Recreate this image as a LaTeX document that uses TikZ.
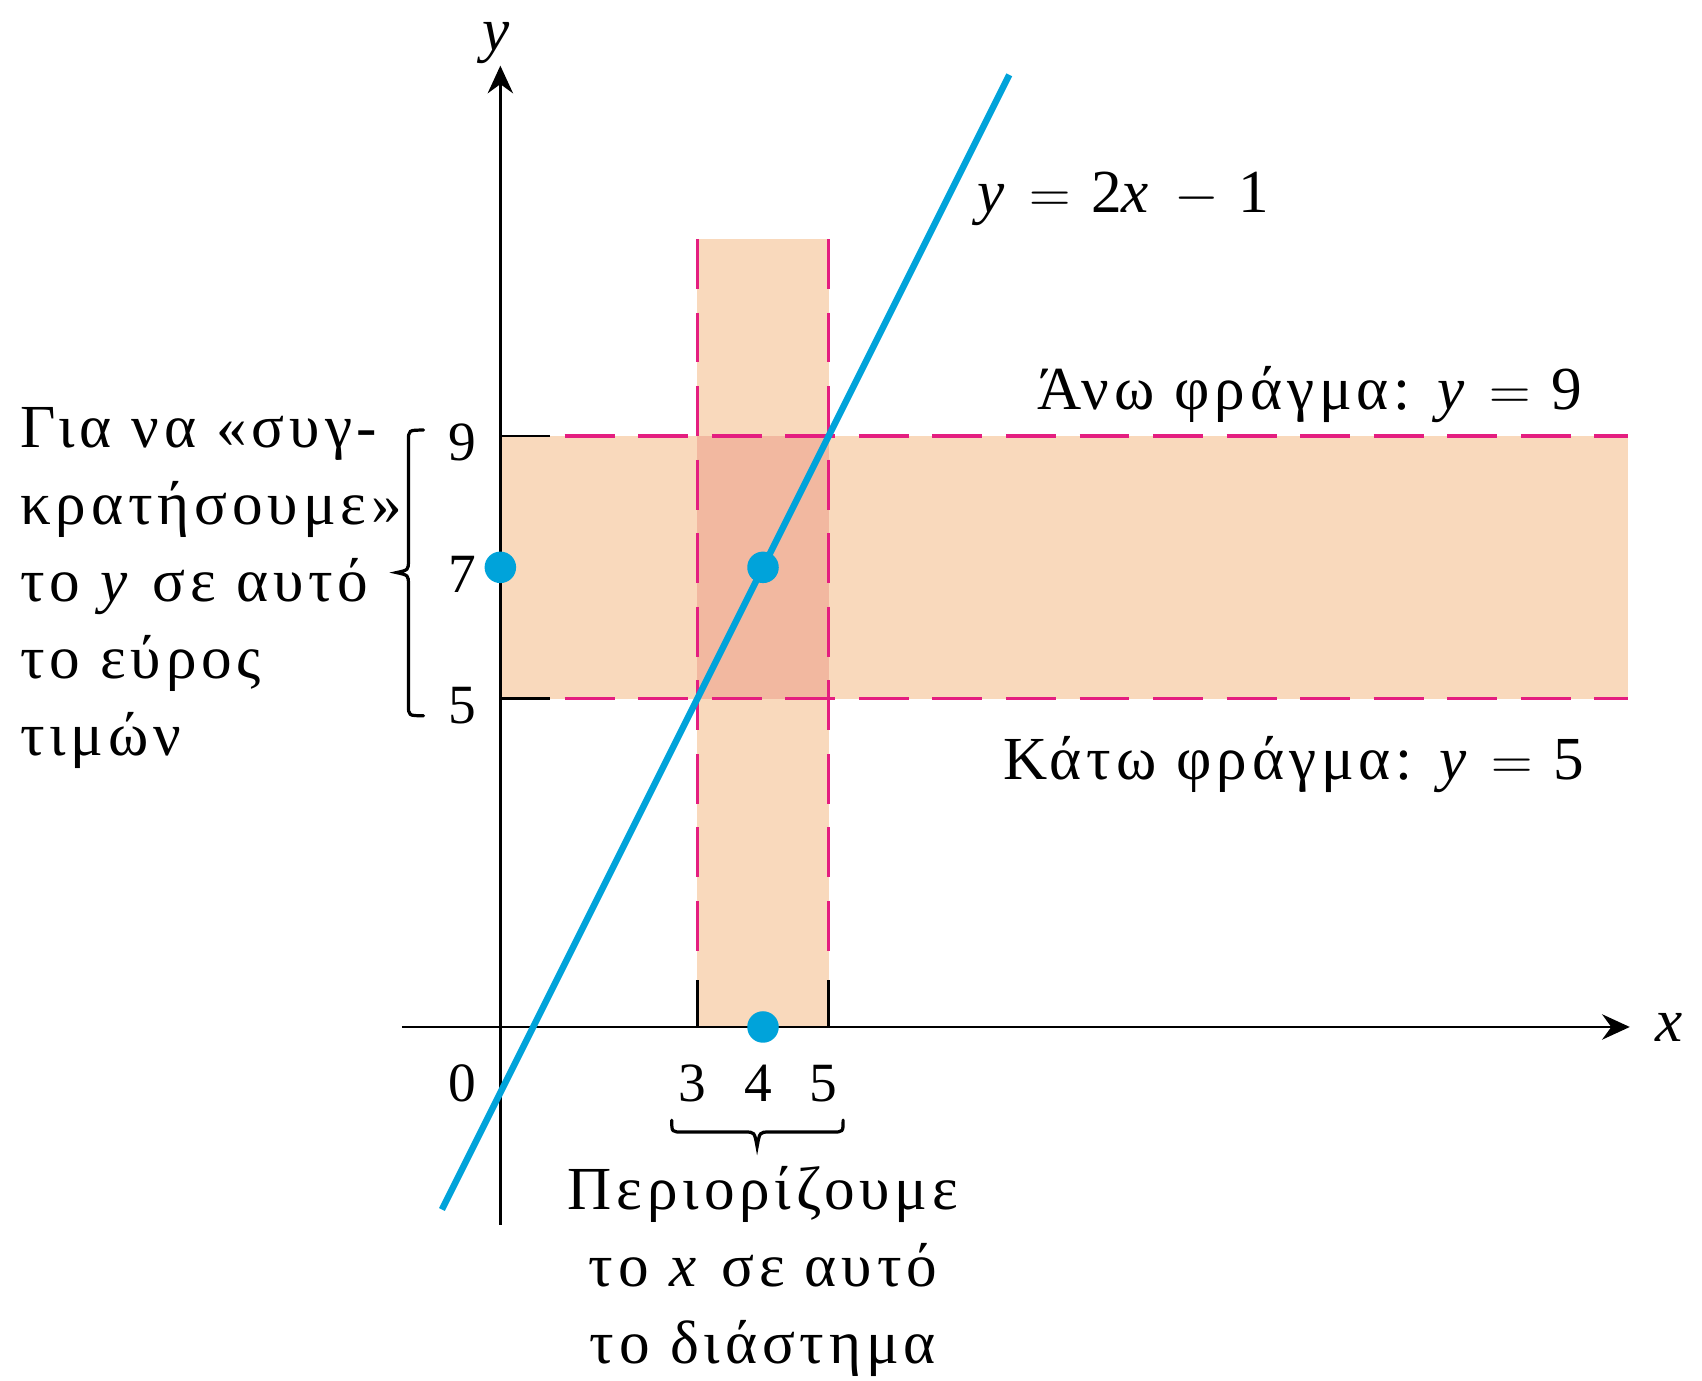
\documentclass[tikz,border=0pt]{standalone}
\usepackage{fontspec}
\setmainfont{Liberation Serif}
\newfontfamily\spacedserif[LetterSpace=8]{Liberation Serif}
\usepackage{tikz}
\usetikzlibrary{arrows.meta}
\usepackage{xcolor}
\definecolor{boundpeach}{RGB}{249,217,188}
\definecolor{boundoverlap}{RGB}{242,184,160}
\definecolor{boundmagenta}{RGB}{228,30,128}
\definecolor{boundcyan}{RGB}{0,163,218}

\begin{document}
\begin{tikzpicture}[
  axis/.style={-{Stealth[length=12pt, width=11pt, inset=4pt]}, line width=1.1pt},
  bound/.style={boundmagenta, line width=1.4pt, dash pattern=on 0.76cm off 0.36cm},
  tickmark/.style={line width=1.1pt},
  graph/.style={boundcyan, line width=2.8pt},
  curly/.style={line width=1.4pt, line cap=round},
  lbl/.style={font=\spacedserif\fontsize{26.5}{33.4}\selectfont, inner sep=0pt},
  num/.style={font=\fontsize{24}{28}\selectfont, inner sep=0pt},
  dot/.style={circle, fill=boundcyan, inner sep=0pt, minimum size=0.48cm},
]
  \useasboundingbox (-7.62,-5.39) rectangle (18.30,15.64);

  % Shaded strips
  \fill[boundpeach] (0,5) rectangle (17.17,9);
  \fill[boundpeach] (3,0) rectangle (5,12);
  \fill[boundoverlap] (3,5) rectangle (5,9);

  % Bounds
  \draw[bound] (0.98,9) -- (17.17,9);
  \draw[bound] (0.98,5) -- (17.17,5);
  \draw[bound] (3,12) -- (3,1.0);
  \draw[bound] (5,12) -- (5,1.0);
  \draw[tickmark] (0,9) -- (0.76,9);
  \draw[tickmark] (0,5) -- (0.76,5);
  \draw[tickmark] (3,0) -- (3,0.72);
  \draw[tickmark] (5,0) -- (5,0.72);

  % Axes
  \draw[axis] (-1.5,0) -- (17.2,0);
  \draw[axis] (0,-3.01) -- (0,14.64);
  \node[lbl] (xlab) at (17.83,0) {\textit{x}};
  \node[lbl] (ylab) at (-0.03,14.98) {\textit{y}};

  % Graph
  \draw[graph] (-0.89,-2.78) -- (7.75,14.5);
  \node[lbl, anchor=base west] (eqn) at (7.26,12.41)
    {\textit{y} $=$ 2\textit{x} $-$ 1};

  \node[dot] (p07) at (0,7) {};
  \node[dot] (p47) at (4,7) {};
  \node[dot] (p40) at (4,0) {};

  % Tick labels
  \node[num, anchor=base east] (t9) at (-0.36,8.62) {9};
  \node[num, anchor=base east] (t7) at (-0.36,6.62) {7};
  \node[num, anchor=base east] (t5) at (-0.36,4.62) {5};
  \node[num, anchor=base east] (t0) at (-0.36,-1.14) {0};
  \node[num, anchor=base] (t3) at (2.93,-1.14) {3};
  \node[num, anchor=base] (t4) at (3.93,-1.14) {4};
  \node[num, anchor=base] (t5x) at (4.92,-1.14) {5};

  % Bound labels
  \node[lbl, anchor=base east] (upper) at (16.48,9.40)
    {Άνω φράγμα: \textit{y} $=$ 9};
  \node[lbl, anchor=base east] (lower) at (16.51,3.77)
    {Κάτω φράγμα: \textit{y} $=$ 5};

  % Braces
  \coordinate (ytop) at (-1.17,9.09);
  \coordinate (ybot) at (-1.17,4.74);
  \draw[curly] (ytop) .. controls (-1.40,9.09) .. (-1.40,8.92) -- (-1.40,7.10)
    .. controls (-1.40,6.96) .. (-1.58,6.92) .. controls (-1.40,6.88) .. (-1.40,6.74)
    -- (-1.40,4.91) .. controls (-1.40,4.74) .. (ybot);
  \coordinate (xleft) at (2.61,-1.42);
  \coordinate (xright) at (5.22,-1.42);
  \draw[curly] (xleft) .. controls (2.61,-1.60) .. (2.78,-1.60) -- (3.73,-1.60)
    .. controls (3.87,-1.60) .. (3.91,-1.82) .. controls (3.95,-1.60) .. (4.09,-1.60)
    -- (5.05,-1.60) .. controls (5.22,-1.60) .. (xright);

  \node[lbl, anchor=north west, align=left] (ytext) at (-7.32,9.44)
    {Για να «συγ-\\κρατήσουμε»\\το \textit{y} σε αυτό\\το εύρος\\τιμών};
  \node[lbl, anchor=north, align=center] (xtext) at (4,-2.12)
    {Περιορίζουμε\\το \textit{x} σε αυτό\\το διάστημα};
\end{tikzpicture}
\end{document}
